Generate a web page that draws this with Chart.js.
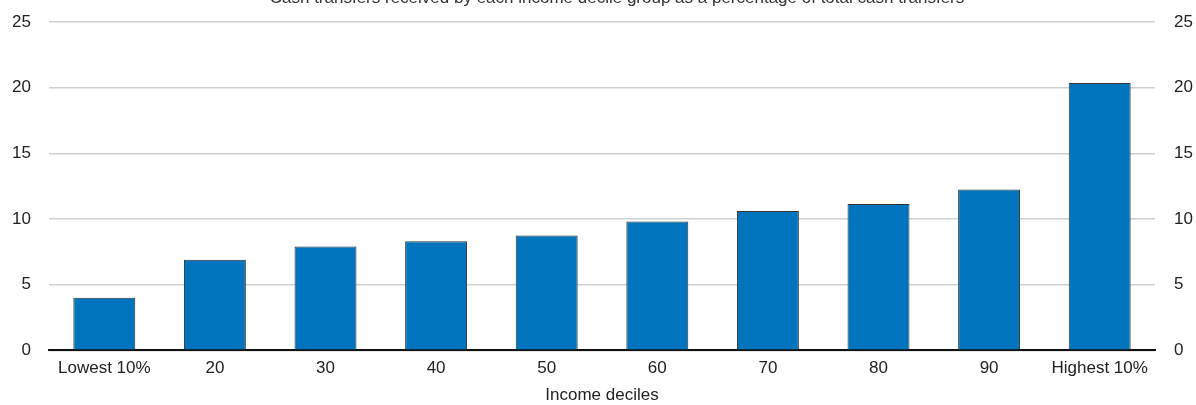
<!DOCTYPE html>
<html>
<head>
<meta charset="utf-8">
<script src="https://cdn.jsdelivr.net/npm/chart.js@4/dist/chart.umd.min.js"></script>
<style>
  html, body { margin: 0; padding: 0; background: #fff; }
  #wrap { width: 1196px; height: 405px; position: relative; overflow: hidden; }
</style>
</head>
<body>
<div id="wrap"><canvas id="grafico" width="1196" height="405"></canvas></div>
<script>
const CATEGORIAS = ['Lowest 10%', '20', '30', '40', '50', '60', '70', '80', '90', 'Highest 10%'];
const VALORES = [4.0, 6.9, 7.9, 8.3, 8.75, 9.8, 10.6, 11.15, 12.25, 20.35];
const TITULO = 'Cash transfers received by each income decile group as a percentage of total cash transfers';
const TITULO_X = 'Income deciles';
const FUENTE = '"Liberation Sans Narrow", "Arial Narrow", "Liberation Sans", Arial, sans-serif';

// title is clipped at the top in the original, draw it by hand
const tituloCortado = {
    id: 'tituloCortado',
    afterDraw(chart) {
        const ctx = chart.ctx;
        ctx.save();
        ctx.font = '17px ' + FUENTE;
        ctx.fillStyle = '#333';
        ctx.textAlign = 'center';
        ctx.textBaseline = 'alphabetic';
        ctx.fillText(TITULO, 617, 3);
        ctx.restore();
    }
};

Chart.defaults.font.family = FUENTE;
Chart.defaults.font.size = 17;
Chart.defaults.color = '#222';

const GRAFICO = document.getElementById('grafico');
let grafica = new Chart(GRAFICO, {
    type: 'bar',
    data: {
        labels: CATEGORIAS,
        datasets: [{
            data: VALORES,
            backgroundColor: '#0075BE',
            borderColor: '#333',
            borderWidth: 1,
            barPercentage: 0.56,
            categoryPercentage: 1
        }]
    },
    options: {
        responsive: false,
        animation: false,
        layout: { padding: { top: 22, bottom: 1 } },
        plugins: { legend: { display: false }, tooltip: { enabled: false } },
        scales: {
            x: {
                grid: { display: false, drawTicks: false },
                border: { color: '#111', width: 2 },
                ticks: { padding: 9, maxRotation: 0, autoSkip: false, font: { lineHeight: 1.1 } },
                title: { display: true, text: TITULO_X, font: { lineHeight: 1.0 }, padding: { top: 0, bottom: 0 } }
            },
            y: {
                position: 'left',
                min: 0, max: 25,
                ticks: { stepSize: 5, padding: 18 },
                grid: { color: '#d0d0d0', lineWidth: 1.5, drawTicks: false },
                border: { display: false },
                afterFit(s) { s.width = 49; s.paddingTop = 0; }
            },
            y2: {
                position: 'right',
                min: 0, max: 25,
                ticks: { stepSize: 5, padding: 19 },
                grid: { display: false, drawTicks: false },
                border: { display: false },
                afterFit(s) { s.width = 41; s.paddingTop = 0; }
            }
        }
    },
    plugins: [tituloCortado]
});
</script>
</body>
</html>
